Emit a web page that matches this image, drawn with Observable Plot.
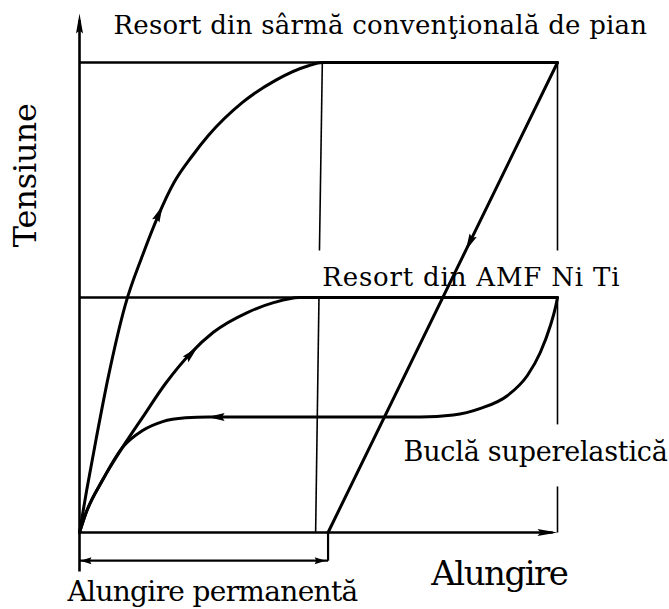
<!DOCTYPE html>
<html><head><meta charset="utf-8">
<script src="https://cdn.jsdelivr.net/npm/d3@7"></script>
<script src="https://cdn.jsdelivr.net/npm/@observablehq/plot@0.6"></script>
<style>body{margin:0;background:#fff}</style>
</head><body><div id="chart"></div>
<script>
// Strain (x, "Alungire") and stress (y, "Tensiune") in arbitrary units 0..10
const pianoLoading = [[0,0],[0.15,0.9],[0.35,2.0],[0.6,3.3],[0.96,4.85],[1.32,5.9],[1.63,6.7],[1.98,7.45],[2.35,8.0],[2.7,8.45],[3.41,9.15],[4.1,9.62],[4.79,9.93],[5.08,10],[10,10]];
const pianoUnloading = [[10,10],[5.2,0]];
const nitiLoading = [[0,0],[0.13,0.4],[0.48,1.11],[0.9,1.81],[1.32,2.45],[1.8,3.17],[2.32,3.81],[2.8,4.26],[3.51,4.68],[4.06,4.89],[4.6,5.0],[10,5]];
const nitiUnloading = [[0,0],[0.13,0.4],[0.48,1.11],[0.9,1.81],[1.32,2.17],[1.74,2.36],[2.22,2.44],[2.7,2.46],[7.13,2.46],[7.82,2.5],[8.39,2.64],[8.95,2.91],[9.37,3.34],[9.64,3.83],[9.85,4.4],[9.96,4.8],[10,5]];

const axesSegments = [
  {x1:0, y1:-0.83, x2:0, y2:10.9},
  {x1:0, y1:0, x2:9.9, y2:0}
];
const levelSegments = [
  {x1:0, y1:10, x2:10, y2:10},
  {x1:0, y1:5, x2:10, y2:5}
];
const guideSegments = [
  {x1:10, y1:10, x2:10, y2:6.0}, {x1:10, y1:5, x2:10, y2:2.3}, {x1:10, y1:0.98, x2:10, y2:0},
  {x1:5.08, y1:10, x2:5.02, y2:6.0}, {x1:5.01, y1:5, x2:4.94, y2:0}
];
const dimensionSegments = [
  {x1:0, y1:-0.6, x2:5.2, y2:-0.6},
  {x1:5.2, y1:0, x2:5.2, y2:-0.6}
];
// arrowheads: tip position and pointing direction (degrees clockwise from up)
const arrowHeads = [
  {x:1.74, y:6.96, angle:24, size:"m"},
  {x:2.47, y:3.94, angle:45, size:"m"},
  {x:2.68, y:2.46, angle:-90, size:"m"},
  {x:8.08, y:6.0, angle:206, size:"m"},
  {x:0, y:11.04, angle:0, size:"l"},
  {x:10, y:0, angle:90, size:"l"},
  {x:0.02, y:-0.6, angle:-90, size:"s"},
  {x:5.15, y:-0.6, angle:90, size:"s"}
];
const labels = [
  {key:"title", text:"Resort din sârmă convenţională de pian", x:0.71, y:10.79},
  {key:"niti", text:"Resort din AMF Ni Ti", x:5.08, y:5.43},
  {key:"loop", text:"Buclă superelastică", x:6.78, y:1.70},
  {key:"xlabel", text:"Alungire", x:7.36, y:-0.89},
  {key:"perm", text:"Alungire permanentă", x:-0.25, y:-1.26}
];
const yLabel = [{key:"ylabel", text:"Tensiune", x:-1.13, y:7.6}];

// styles
const labelStyle = {
  title:{fontSize:26, width:534}, niti:{fontSize:26, width:298}, loop:{fontSize:27, width:264},
  xlabel:{fontSize:34, width:136}, perm:{fontSize:28, width:290}, ylabel:{fontSize:32, width:144}
};
const headDims = {s:[7,11], m:[8,17], l:[7,20]};
const makeHead = (w, l) => ({draw(ctx){ ctx.moveTo(0,0); ctx.lineTo(-w/2,l); ctx.lineTo(0,l*0.85); ctx.lineTo(w/2,l); ctx.closePath(); }});

const px = d => d[0], py = d => d[1];
const headMarks = Object.entries(headDims).map(([k,[w,l]]) =>
  Plot.dot(arrowHeads.filter(a => a.size === k), {x:"x", y:"y", rotate:"angle", symbol: makeHead(w,l), r:5, fill:"black", stroke:"none"}));

const chart = Plot.plot({
  width:669, height:609,
  marginLeft:79, marginRight:112, marginTop:62, marginBottom:77,
  x:{domain:[0,10], axis:null},
  y:{domain:[0,10], axis:null},
  style:{background:"white", overflow:"visible"},
  marks:[
    Plot.link(guideSegments, {x1:"x1", y1:"y1", x2:"x2", y2:"y2", stroke:"black", strokeWidth:1.6}),
    Plot.link(levelSegments, {x1:"x1", y1:"y1", x2:"x2", y2:"y2", stroke:"black", strokeWidth:2.5}),
    Plot.link(axesSegments, {x1:"x1", y1:"y1", x2:"x2", y2:"y2", stroke:"black", strokeWidth:2.6}),
    Plot.link(dimensionSegments, {x1:"x1", y1:"y1", x2:"x2", y2:"y2", stroke:"black", strokeWidth:2.2}),
    Plot.line(pianoLoading, {x:px, y:py, curve:"monotone-x", stroke:"black", strokeWidth:3}),
    Plot.line(pianoUnloading, {x:px, y:py, stroke:"black", strokeWidth:3}),
    Plot.line(nitiLoading, {x:px, y:py, curve:"monotone-x", stroke:"black", strokeWidth:3}),
    Plot.line(nitiUnloading, {x:px, y:py, curve:"monotone-x", stroke:"black", strokeWidth:3}),
    ...headMarks,
    Plot.text(labels, {x:"x", y:"y", text:"text", textAnchor:"start",
      fontSize:d => labelStyle[d.key].fontSize, fontFamily:"DejaVu Serif", fill:"black"}),
    Plot.text(yLabel, {x:"x", y:"y", text:"text", rotate:-90, textAnchor:"middle",
      fontSize:labelStyle.ylabel.fontSize, fontFamily:"DejaVu Serif", fill:"black"})
  ]
});
document.getElementById("chart").appendChild(chart);
// fit label widths with letter spacing
const allLabels = [...labels, ...yLabel];
const texts = chart.querySelectorAll('g[aria-label="text"] text');
texts.forEach((t, i) => {
  const d = allLabels[i];
  const st = labelStyle[d.key];
  const len = t.getComputedTextLength();
  t.setAttribute("letter-spacing", ((st.width - len) / d.text.length).toFixed(2));
});
</script>
</body></html>
